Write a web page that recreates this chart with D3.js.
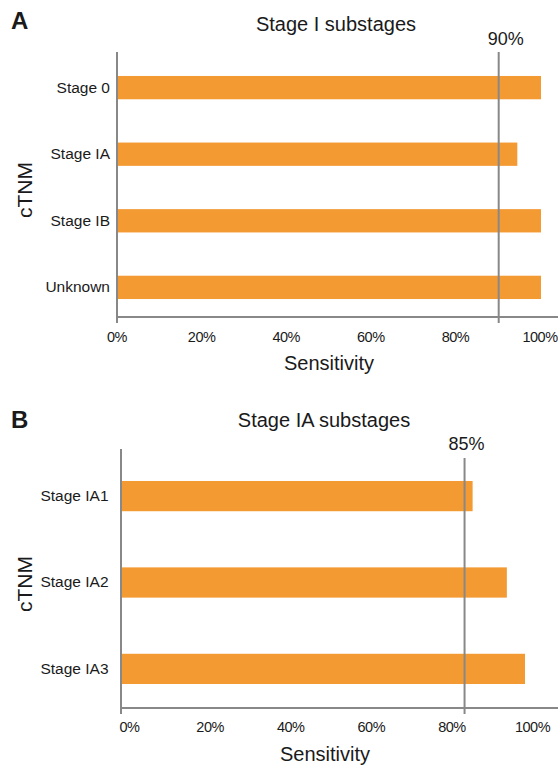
<!DOCTYPE html>
<html>
<head>
<meta charset="utf-8">
<script src="https://cdn.jsdelivr.net/npm/d3@7/dist/d3.min.js"></script>
<style>
  body { margin: 0; background: #fff; }
  text { font-family: "Liberation Sans", Arial, Helvetica, sans-serif; fill: #1a1a1a; }
</style>
</head>
<body>
<svg id="chart" width="558" height="766"></svg>
<script>
// data
const stageICategories = ["Stage 0", "Stage IA", "Stage IB", "Unknown"];
const stageIValues = [100, 94.4, 100, 100];
const stageIThreshold = 90;

const stageIACategories = ["Stage IA1", "Stage IA2", "Stage IA3"];
const stageIAValues = [87, 95.5, 100];
const stageIAThreshold = 85;

const tickValues = [0, 20, 40, 60, 80, 100];

const barColor = "#f39a33";
const axisColor = "#888888";

const svg = d3.select("#chart");

function drawPanel(cfg) {
    const g = svg.append("g");

    const x = d3.scaleLinear().domain([0, 100]).range(cfg.xRange);
    const y = d3.scaleBand()
        .domain(cfg.categories)
        .range(cfg.yRange)
        .paddingInner(0.65)
        .paddingOuter(0.324);

    // panel letter + title
    g.append("text")
        .attr("x", cfg.letterX).attr("y", cfg.letterY)
        .style("font-size", "24px").style("font-weight", "bold")
        .text(cfg.letter);
    g.append("text")
        .attr("x", cfg.titleX).attr("y", cfg.titleY)
        .attr("text-anchor", "middle")
        .style("font-size", "20px")
        .text(cfg.title);

    // bars
    g.selectAll("rect.bar")
        .data(cfg.values)
        .join("rect")
        .attr("class", "bar")
        .attr("x", x(0))
        .attr("y", (d, i) => y(cfg.categories[i]))
        .attr("width", d => x(d) - x(0))
        .attr("height", y.bandwidth())
        .attr("fill", barColor);

    // y axis (labels only, line drawn below)
    const yAxis = g.append("g")
        .attr("transform", "translate(" + cfg.axisX + ",0)")
        .call(d3.axisLeft(y).tickSize(0).tickPadding(cfg.yLabelPad));
    yAxis.select(".domain").remove();
    yAxis.selectAll("text")
        .style("font-size", "15.5px")
        .style("font-family", "'Liberation Sans', Arial, sans-serif")
        .attr("fill", "#1a1a1a");

    // x axis tick labels
    const xAxis = g.append("g")
        .attr("transform", "translate(" + cfg.tickDx + "," + cfg.xAxisY + ")")
        .call(d3.axisBottom(x).tickValues(tickValues).tickSize(0).tickPadding(cfg.tickPad).tickFormat(d => d + "%"));
    xAxis.select(".domain").remove();
    xAxis.selectAll("text")
        .style("font-size", "14.5px")
        .style("font-family", "'Liberation Sans', Arial, sans-serif")
        .style("letter-spacing", "-0.5px")
        .attr("fill", "#1a1a1a");

    // axis lines
    g.append("line")
        .attr("x1", cfg.axisX).attr("x2", cfg.axisX)
        .attr("y1", cfg.axisTop).attr("y2", cfg.xAxisY + 6)
        .attr("stroke", axisColor).attr("stroke-width", 2);
    g.append("line")
        .attr("x1", cfg.axisX).attr("x2", 558)
        .attr("y1", cfg.xAxisY).attr("y2", cfg.xAxisY)
        .attr("stroke", axisColor).attr("stroke-width", 2);

    // threshold line
    g.append("line")
        .attr("x1", x(cfg.threshold)).attr("x2", x(cfg.threshold))
        .attr("y1", cfg.refTop).attr("y2", cfg.xAxisY + 6)
        .attr("stroke", axisColor).attr("stroke-width", 2);
    g.append("text")
        .attr("x", x(cfg.threshold) + cfg.refLabelDx).attr("y", cfg.refLabelY)
        .attr("text-anchor", "middle")
        .style("font-size", "18px")
        .text(cfg.threshold + "%");

    // axis titles
    g.append("text")
        .attr("x", cfg.xTitleX).attr("y", cfg.xTitleY)
        .attr("text-anchor", "middle")
        .style("font-size", "20px")
        .text("Sensitivity");
    g.append("text")
        .attr("transform", "translate(32," + cfg.yTitleY + ") rotate(-90)")
        .attr("text-anchor", "middle")
        .style("font-size", "21px")
        .text("cTNM");
}

drawPanel({
    letter: "A", letterX: 11, letterY: 29,
    title: "Stage I substages", titleX: 336, titleY: 31,
    categories: stageICategories, values: stageIValues, threshold: stageIThreshold,
    xRange: [118, 541], yRange: [54.4, 320.6],
    axisX: 117, axisTop: 52, xAxisY: 317,
    yLabelPad: 7, tickPad: 15, tickDx: -1.5,
    refTop: 52, refLabelY: 45, refLabelDx: 7,
    xTitleX: 329, xTitleY: 370, yTitleY: 190
});

drawPanel({
    letter: "B", letterX: 11, letterY: 428,
    title: "Stage IA substages", titleX: 324, titleY: 427,
    categories: stageIACategories, values: stageIAValues, threshold: stageIAThreshold,
    xRange: [122, 525], yRange: [453, 712],
    axisX: 121, axisTop: 449, xAxisY: 708,
    yLabelPad: 12.5, tickPad: 14, tickDx: 7,
    refTop: 458, refLabelY: 450, refLabelDx: 2,
    xTitleX: 325, xTitleY: 761, yTitleY: 584
});
</script>
</body>
</html>
